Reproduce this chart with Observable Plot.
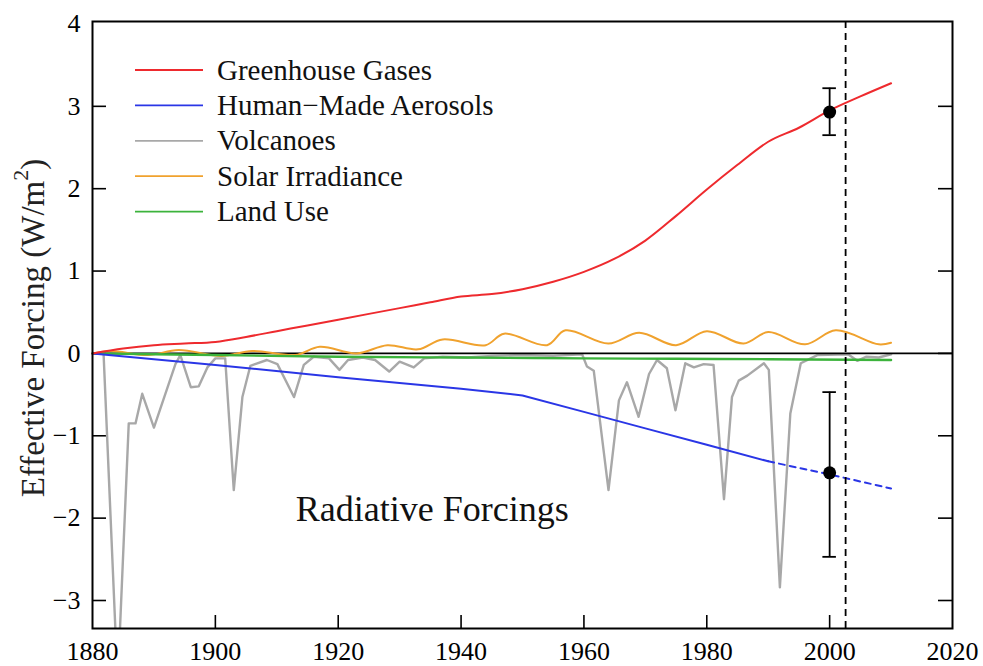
<!DOCTYPE html>
<html>
<head>
<meta charset="utf-8">
<script src="https://cdn.jsdelivr.net/npm/d3@7"></script>
<script src="https://cdn.jsdelivr.net/npm/@observablehq/plot@0.6"></script>
<style>
  html, body { margin: 0; padding: 0; background: #fff; }
  #chart { position: relative; width: 983px; height: 666px; }
  #chart svg, #chart svg text, #chart svg tspan {
    font-family: "Liberation Serif", "Times New Roman", Tinos, Times, "DejaVu Serif", "Noto Serif", serif !important;
  }
</style>
</head>
<body>
<div id="chart"></div>
<script>
// Axis ticks
const xTicks = [1880, 1900, 1920, 1940, 1960, 1980, 2000, 2020];
const yTicks = [-3, -2, -1, 0, 1, 2, 3, 4];

// Greenhouse gases (W/m2)
const ghgYears = [1880, 1885, 1890, 1895, 1900, 1905, 1910, 1915, 1920, 1925, 1930, 1935, 1940, 1945, 1950, 1955, 1960, 1965, 1970, 1975, 1980, 1985, 1990, 1995, 2000, 2005, 2010];
const ghgVals  = [0.00, 0.06, 0.10, 0.12, 0.14, 0.20, 0.27, 0.34, 0.41, 0.48, 0.55, 0.62, 0.69, 0.72, 0.78, 0.87, 0.99, 1.15, 1.37, 1.67, 1.99, 2.29, 2.57, 2.74, 2.95, 3.12, 3.28];

// Human-made aerosols: solid through 1990, dashed afterwards
const aerYears = [1880, 1900, 1920, 1940, 1950, 1960, 1970, 1980, 1990];
const aerVals  = [0.00, -0.14, -0.29, -0.43, -0.51, -0.71, -0.91, -1.11, -1.31];
const aerExtYears = [1990, 2000, 2010];
const aerExtVals  = [-1.31, -1.47, -1.64];

// Volcanic (stratospheric aerosol) forcing
const volYears = [1880, 1881.8, 1884.1, 1885.9, 1887.0, 1888.1, 1890.0, 1893.5, 1894.3, 1896.0, 1897.3, 1898.7, 1900.0, 1901.6, 1903.0, 1904.4, 1905.7, 1908.4, 1910.1, 1912.8, 1914.4, 1916.0, 1918.5, 1920.2, 1921.6, 1924.0, 1926.0, 1928.3, 1930.0, 1932.3, 1934.0, 1937.0, 1941.0, 1945.0, 1950.0, 1955.0, 1959.7, 1960.5, 1961.6, 1964.0, 1965.7, 1967.0, 1968.9, 1970.6, 1971.9, 1973.5, 1974.9, 1976.5, 1977.9, 1979.5, 1981.1, 1982.8, 1984.1, 1985.2, 1986.6, 1989.3, 1990.1, 1991.9, 1993.6, 1995.3, 1998.0, 2003.0, 2004.5, 2006.0, 2008.0, 2010.0];
const volVals  = [0, 0, -4.0, -0.85, -0.85, -0.49, -0.90, -0.13, -0.02, -0.41, -0.40, -0.17, -0.06, -0.06, -1.66, -0.53, -0.15, -0.08, -0.13, -0.53, -0.14, -0.04, -0.06, -0.20, -0.08, -0.05, -0.08, -0.22, -0.10, -0.17, -0.06, -0.04, -0.05, -0.03, -0.02, -0.03, -0.01, -0.16, -0.21, -1.66, -0.57, -0.35, -0.77, -0.25, -0.08, -0.18, -0.69, -0.12, -0.17, -0.13, -0.14, -1.77, -0.53, -0.33, -0.27, -0.12, -0.20, -2.84, -0.73, -0.12, -0.02, -0.01, -0.09, -0.04, -0.05, -0.01];

// Solar irradiance
const solYears = [1880, 1883, 1889, 1894, 1901, 1906, 1913, 1917, 1923, 1928, 1933, 1937, 1944, 1947, 1954, 1957, 1964, 1969, 1975, 1980, 1986, 1990, 1996, 2001, 2008, 2010];
const solVals  = [0.00, 0.03, -0.02, 0.04, -0.03, 0.03, -0.02, 0.08, 0.00, 0.10, 0.05, 0.17, 0.10, 0.24, 0.10, 0.28, 0.12, 0.25, 0.10, 0.27, 0.12, 0.26, 0.11, 0.28, 0.11, 0.13];

// Land use
const landYears = [1880, 1900, 1920, 1940, 1960, 1990, 2010];
const landVals  = [0.00, -0.02, -0.04, -0.05, -0.06, -0.07, -0.08];

// Estimates with uncertainty for the year 2000
const estYears = [2000, 2000];
const estVals  = [2.93, -1.45];
const estLow   = [2.65, -2.47];
const estHigh  = [3.22, -0.47];

const refYear = 2002.6;

const legendNames  = ["Greenhouse Gases", "Human\u2212Made Aerosols", "Volcanoes", "Solar Irradiance", "Land Use"];
const legendColors = ["#ee2a2e", "#2a36e6", "#a8a8a8", "#f0a22e", "#3cb33c"];

const rows = (xs, vs) => xs.map((x, i) => ({year: x, value: vs[i]}));
const ghg = rows(ghgYears, ghgVals);
const aer = rows(aerYears, aerVals);
const aerExt = rows(aerExtYears, aerExtVals);
const vol = rows(volYears, volVals);
const sol = rows(solYears, solVals);
const land = rows(landYears, landVals);
const est = estYears.map((x, i) => ({year: x, value: estVals[i], lo: estLow[i], hi: estHigh[i]}));

const serif = "'Liberation Serif', 'Times New Roman', Tinos, Times, 'DejaVu Serif', serif";
const fmt = d => (d < 0 ? "\u2212" + Math.abs(d) : String(d));

const W = 983, H = 666, mL = 92, mR = 31, mT = 21, mB = 38;
const innerH = H - mT - mB;
const innerW = W - mL - mR;
const tickLen = 13;

const plot = Plot.plot({
  width: W,
  height: H,
  marginLeft: mL,
  marginRight: mR,
  marginTop: mT,
  marginBottom: mB,
  style: {fontFamily: serif, background: "white", color: "black"},
  x: {domain: [1880, 2020]},
  y: {domain: [-3.34, 4.03]},
  marks: [
    // tick labels
    Plot.axisX(xTicks, {tickSize: 0, tickPadding: 13, fontSize: 26, label: null, tickFormat: d => String(d)}),
    Plot.axisY(yTicks, {anchor: "left", tickSize: 0, tickPadding: 12, fontSize: 26, label: null, tickFormat: fmt}),
    // inward tick marks
    Plot.ruleX(xTicks.slice(1, -1), {stroke: "black", strokeWidth: 1.6, insetTop: innerH - tickLen}),
    Plot.ruleY(yTicks.slice(0, -1), {stroke: "black", strokeWidth: 1.6, insetRight: innerW - tickLen - 1}),
    Plot.ruleY(yTicks.slice(0, -1), {stroke: "black", strokeWidth: 1.6, insetLeft: innerW - tickLen - 1}),

    Plot.lineY(vol, {x: "year", y: "value", stroke: legendColors[2], strokeWidth: 2.4, clip: true}),
    Plot.ruleY([0], {stroke: "black", strokeWidth: 1.6}),
    Plot.lineY(sol, {x: "year", y: "value", stroke: legendColors[3], strokeWidth: 2, curve: "catmull-rom"}),
    Plot.lineY(land, {x: "year", y: "value", stroke: legendColors[4], strokeWidth: 2.4, curve: "monotone-x"}),
    Plot.lineY(aer, {x: "year", y: "value", stroke: legendColors[1], strokeWidth: 2}),
    Plot.lineY(aerExt, {x: "year", y: "value", stroke: legendColors[1], strokeWidth: 2, strokeDasharray: "6,5"}),
    Plot.lineY(ghg, {x: "year", y: "value", stroke: legendColors[0], strokeWidth: 2, curve: "monotone-x"}),

    Plot.ruleX([refYear], {stroke: "black", strokeWidth: 1.8, strokeDasharray: "7,5"}),

    // uncertainty bars
    Plot.ruleX(est, {x: "year", y1: "lo", y2: "hi", stroke: "black", strokeWidth: 1.8}),
    Plot.ruleY(est, {y: "lo", x1: d => d.year - 1.1, x2: d => d.year + 1.1, stroke: "black", strokeWidth: 1.8}),
    Plot.ruleY(est, {y: "hi", x1: d => d.year - 1.1, x2: d => d.year + 1.1, stroke: "black", strokeWidth: 1.8}),
    Plot.dot(est, {x: "year", y: "value", r: 6.5, fill: "black"}),

    Plot.text(["Radiative Forcings"], {x: 1935.3, y: -1.89, text: d => d, fontSize: 36, fill: "#111"}),

    Plot.frame({stroke: "black", strokeWidth: 2})
  ]
});

const svg = d3.select(plot);

// Legend
const lg = svg.append("g").attr("class", "legend").attr("text-anchor", "start");
legendNames.forEach((name, i) => {
  const yy = 70 + i * 35.4;
  lg.append("line")
    .attr("x1", 135).attr("x2", 203).attr("y1", yy).attr("y2", yy)
    .attr("stroke", legendColors[i]).attr("stroke-width", 1.8);
  lg.append("text")
    .attr("x", 217).attr("y", yy + 9.5)
    .attr("font-size", 29).attr("fill", "#111")
    .text(name);
});

// Y axis title with superscript
const yt = svg.append("text")
  .attr("transform", "translate(44,328) rotate(-90)")
  .attr("text-anchor", "middle")
  .attr("font-size", 33)
  .attr("fill", "#222");
yt.append("tspan").text("Effective Forcing (W/m");
yt.append("tspan").attr("font-size", 22).attr("dy", "-0.75em").text("2");
yt.append("tspan").attr("dy", "0.5em").text(")");

document.getElementById("chart").appendChild(plot);
</script>
</body>
</html>
